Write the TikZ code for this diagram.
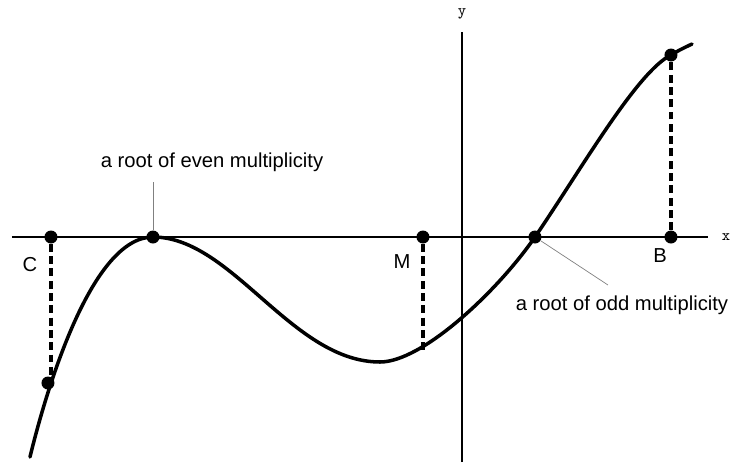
\documentclass[tikz,border=0pt]{standalone}
\usepackage{fontspec}
\setmainfont{Liberation Sans}
\begin{document}
\begin{tikzpicture}[font=\fontsize{11.5}{13}\selectfont]

    \tikzset{
      point/.style={
        circle,
        fill,
        inner sep=0pt,
        minimum size=2.6mm,
      },
      axis/.style={color={black},line width=0.8pt},
      drop/.style={color={black},line width=1.8pt,dash pattern=on 4.5pt off 2.5pt},
      leader/.style={color={gray},line width=0.4pt},
    }
    \useasboundingbox (-9.24,-4.6) rectangle (5.38,4.74);

	\draw[axis] (-9,0)--(4.92,0);
	\draw[axis] (0,-4.5)--(0,4.1);
	\node[inner sep=1pt] (xlab) at (5.28,0) {\ttfamily\small x};
	\node (ylab) at (0,4.46) {\ttfamily\small y};

	\draw[color={black},line width = 2pt,line cap=round]
	  (-8.64,-4.4) .. controls (-8.3,-3.0) and (-7.4,0) .. (-6.18,0)
	  .. controls (-4.6,0) and (-3.4,-2.5) .. (-1.64,-2.5)
	  .. controls (-0.8,-2.5) and (0.7,-1.1) .. (1.46,0)
	  .. controls (2.4,1.38) and (3.5,3.3) .. (4.18,3.64)
	  .. controls (4.35,3.74) .. (4.6,3.86);

	\node[point] (C) at (-8.22,0) {};
	\node[point] (P) at (-8.28,-2.92) {};
	\node[point] (E) at (-6.18,0) {};
	\node[point] (M) at (-0.78,0) {};
	\coordinate (Q) at (-0.78,-2.26);
	\node[point] (O) at (1.46,0) {};
	\node[point] (B) at (4.18,0) {};
	\node[point] (T) at (4.18,3.64) {};

	\draw[drop] (C)--(C|-P);
	\draw[drop] (M)--(Q);
	\draw[drop] (B)--(T);

	\node (Clab) at (-8.64,-0.56) {C};
	\node (Mlab) at (-1.2,-0.5) {M};
	\node (Blab) at (3.96,-0.38) {B};

	\node (even) at (-5.0,1.5) {a root of even multiplicity};
	\node (odd) at (3.2,-1.36) {a root of odd multiplicity};
	\coordinate (evenfoot) at (-6.18,1.1);
	\coordinate (oddfoot) at (2.92,-0.96);
	\draw[leader] (evenfoot)--(E);
	\draw[leader] (oddfoot)--(O);

\end{tikzpicture}
\end{document}
